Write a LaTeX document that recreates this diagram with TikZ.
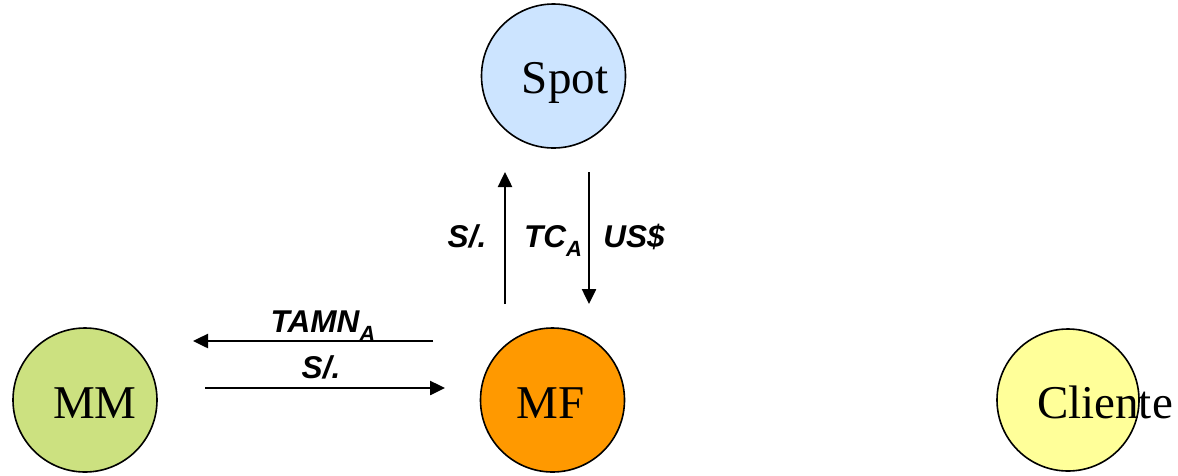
\documentclass[tikz,border=0pt]{standalone}
\usepackage{fontspec}
\setmainfont{Liberation Serif}
\newfontfamily\arialfont{Liberation Sans}
\usetikzlibrary{arrows.meta}

\definecolor{spotblue}{RGB}{204,228,255}
\definecolor{mmgreen}{RGB}{204,225,128}
\definecolor{mforange}{RGB}{255,153,0}
\definecolor{clientyellow}{RGB}{255,255,153}

% lowered index for the flow labels
\newcommand{\lowtag}[1]{\raisebox{-0.3em}{\fontsize{22}{23}\selectfont #1}}

\begin{document}
\begin{tikzpicture}[x=1pt,y=-1pt,
		>={Triangle[length=15pt,width=14pt]},
		bubble/.style={circle,draw=black,line width=1.6pt,minimum size=144pt,inner sep=0pt},
		word/.style={font=\fontsize{47}{50}\selectfont,anchor=base,inner sep=0pt},
		flow/.style={draw=black,line width=2.5pt,->},
		tag/.style={font=\arialfont\bfseries\itshape\fontsize{31.5}{33}\selectfont,anchor=base,inner sep=0pt}]
	\useasboundingbox (0,0) rectangle (1178,475);

	% markets
	\node[bubble,fill=spotblue] (spot) at (553.5,76) {};
	\node[bubble,fill=mmgreen] (mm) at (85,400) {};
	\node[bubble,fill=mforange] (mf) at (552.5,400) {};
	\node[bubble,fill=clientyellow,minimum size=142pt] (cliente) at (1068,400) {};
	\node[word] (spottxt) at ([xshift=11.5pt,yshift=-17pt]spot.center) {Spot};
	\node[word] (mmtxt) at ([xshift=10pt,yshift=-18pt]mm.center) {MM};
	\node[word] (mftxt) at ([xshift=-2pt,yshift=-18pt]mf.center) {MF};
	\node[word] (clientetxt) at ([xshift=37pt,yshift=-18pt]cliente.center) {Cliente};

	% MF <-> Spot
	\coordinate (upfoot) at (505,304);
	\coordinate (uphead) at (505,172);
	\coordinate (downfoot) at (589,172);
	\coordinate (downhead) at (589,304);
	\path[flow] (upfoot)--(uphead);
	\path[flow] (downfoot)--(downhead);
	\node[tag] (solspot) at (467,247) {S/.};
	\node[tag] (tca) at (553,247) {TC\lowtag{A}};
	\node[tag] (usd) at (634,247) {US\$};

	% MF <-> MM
	\coordinate (leftfoot) at (433,341);
	\coordinate (lefthead) at (193,341);
	\coordinate (rightfoot) at (205,388);
	\coordinate (righthead) at (445,388);
	\path[flow] (leftfoot)--(lefthead);
	\path[flow] (rightfoot)--(righthead);
	\node[tag] (tamn) at (323,332) {TAMN\lowtag{A}};
	\node[tag] (solmm) at (321,378) {S/.};
\end{tikzpicture}
\end{document}
